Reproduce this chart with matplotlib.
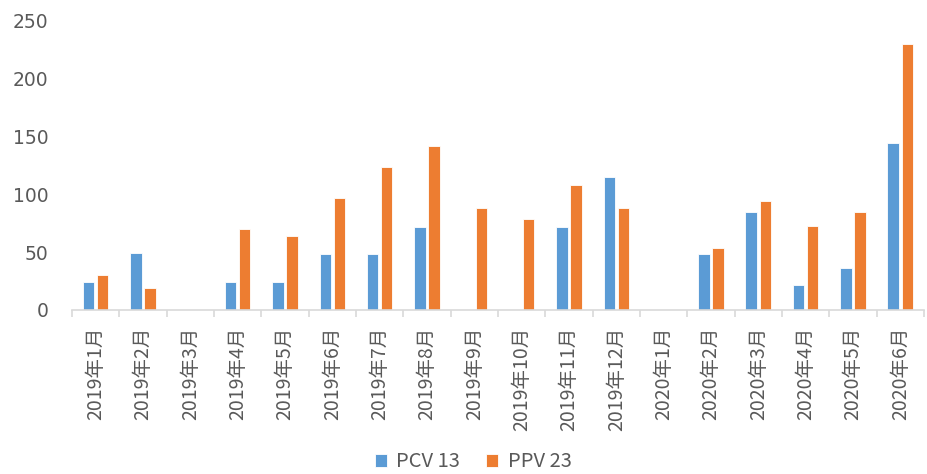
import numpy as np
import matplotlib.pyplot as plt

plt.rcParams['font.family'] = ['Noto Sans CJK SC', 'DejaVu Sans']

months = ["2019年1月", "2019年2月", "2019年3月", "2019年4月", "2019年5月", "2019年6月",
          "2019年7月", "2019年8月", "2019年9月", "2019年10月", "2019年11月", "2019年12月",
          "2020年1月", "2020年2月", "2020年3月", "2020年4月", "2020年5月", "2020年6月"]
pcv13 = [24, 49, 0, 24, 24, 48, 48, 72, 0, 0, 72, 115, 0, 48, 85, 22, 36, 144]
ppv23 = [30, 19, 0, 70, 64, 97, 124, 142, 88, 79, 108, 88, 0, 54, 94, 73, 85, 230]

if __name__ == "__main__":
    fig = plt.figure(figsize=(9.28, 4.74), dpi=100)
    ax = fig.add_axes([0.0776, 0.346, 0.918, 0.61])

    x = np.arange(len(months))
    w = 0.24
    ax.bar(x - 0.15, pcv13, w, color="#5B9BD5", edgecolor="white", linewidth=0.6, label="PCV 13")
    ax.bar(x + 0.15, ppv23, w, color="#ED7D31", edgecolor="white", linewidth=0.6, label="PPV 23")

    ax.set_xlim(-0.5, len(months) - 0.5)
    ax.set_ylim(0, 250)
    ax.set_yticks([0, 50, 100, 150, 200, 250])
    for t in ax.get_yticklabels():
        t.set_family("DejaVu Sans")

    ax.set_xticks(x)
    ax.set_xticklabels(months, rotation=90, fontsize=14, color="#595959")
    ax.set_xticks(np.arange(len(months) + 1) - 0.5, minor=True)
    ax.tick_params(axis="x", which="major", length=0, pad=12)
    ax.tick_params(axis="x", which="minor", length=5, color="#D9D9D9", width=1.2)
    ax.tick_params(axis="y", length=0, labelsize=13.5, labelcolor="#595959", pad=17)

    for s in ["top", "right", "left"]:
        ax.spines[s].set_visible(False)
    ax.spines["bottom"].set_color("#D9D9D9")
    ax.spines["bottom"].set_linewidth(1.2)

    fig.legend(loc="lower center", bbox_to_anchor=(0.51, -0.035), ncol=2, frameon=False,
               fontsize=14.5, handlelength=0.6, handleheight=0.6, columnspacing=1.3,
               handletextpad=0.45, labelcolor="#595959")

    fig.savefig("out.png", dpi=100)
